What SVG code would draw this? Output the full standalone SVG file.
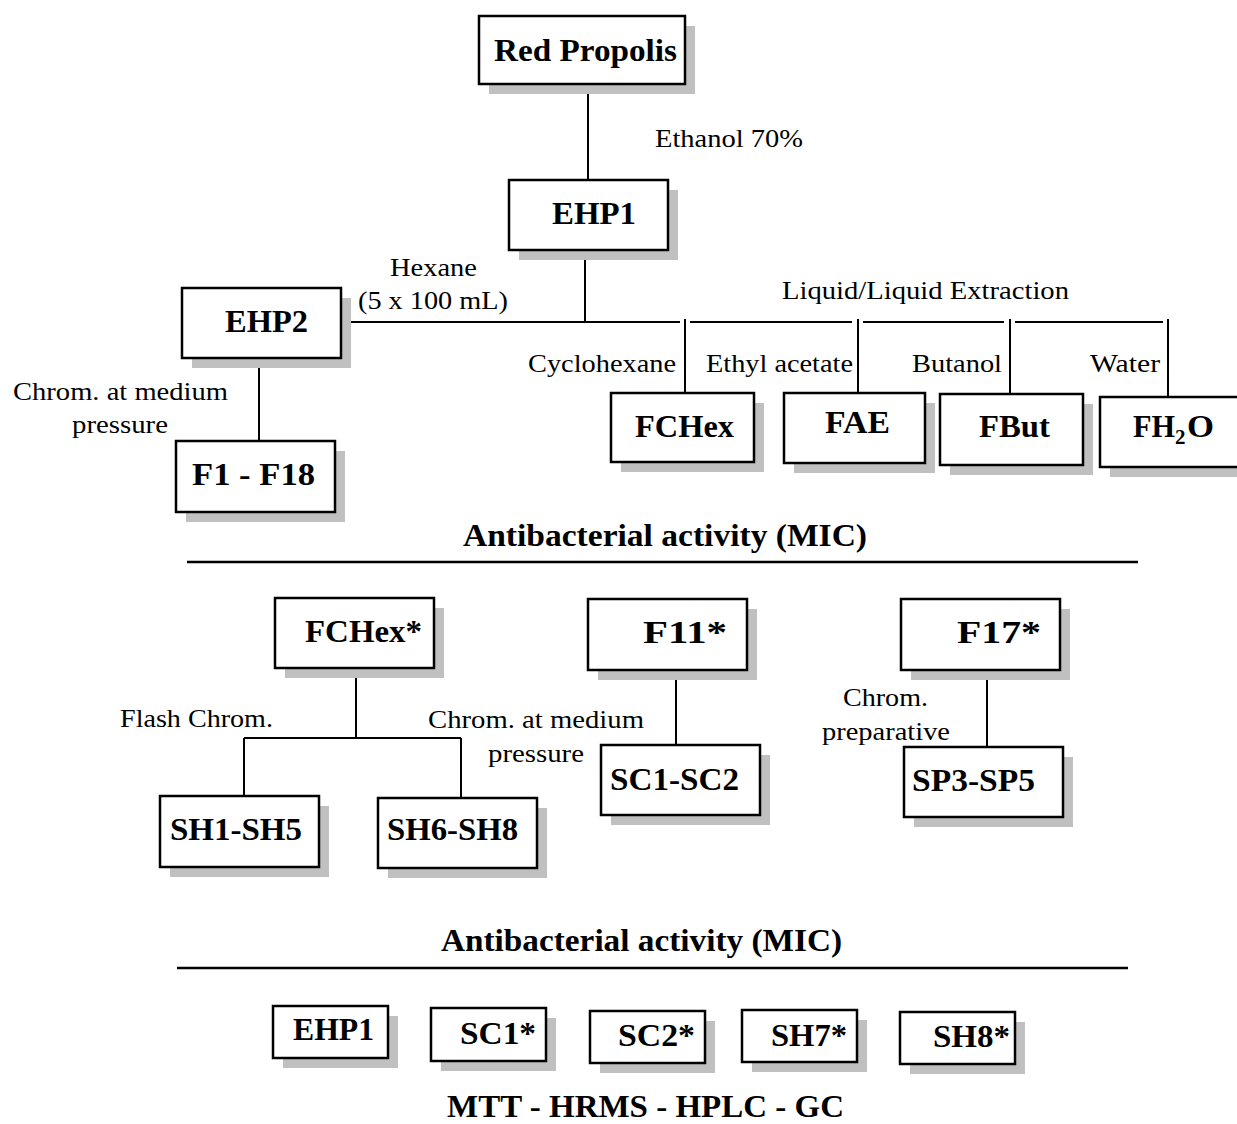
<svg xmlns="http://www.w3.org/2000/svg" width="1237" height="1124" viewBox="0 0 1237 1124">
<style>
.sh{fill:#c0c0c0;stroke:none}
.bx{fill:#fff;stroke:#000;stroke-width:2.5}
.b{font-family:"Liberation Serif","Times New Roman",serif;font-weight:bold;font-size:32px;fill:#000}
.n{font-family:"Liberation Serif","Times New Roman",serif;font-size:25px;fill:#000}
.ln{stroke:#000;stroke-width:2;fill:none}
.rule{stroke:#000;stroke-width:2.5;fill:none}
</style>
<rect width="1237" height="1124" fill="#fff"/>

<g id="connectors">
<line class="ln" x1="588" y1="84" x2="588" y2="180"/>
<line class="ln" x1="585" y1="250" x2="585" y2="322"/>
<line class="ln" x1="341" y1="322" x2="680" y2="322"/>
<line class="ln" x1="690" y1="322" x2="852" y2="322"/>
<line class="ln" x1="863" y1="322" x2="1004" y2="322"/>
<line class="ln" x1="1015" y1="322" x2="1163" y2="322"/>
<line class="ln" x1="685" y1="319" x2="685" y2="393"/>
<line class="ln" x1="858" y1="319" x2="858" y2="393"/>
<line class="ln" x1="1010" y1="319" x2="1010" y2="394"/>
<line class="ln" x1="1168" y1="319" x2="1168" y2="397"/>
<line class="ln" x1="259" y1="358" x2="259" y2="441"/>
<line class="ln" x1="356" y1="668" x2="356" y2="738"/>
<line class="ln" x1="244" y1="738" x2="461" y2="738"/>
<line class="ln" x1="244" y1="738" x2="244" y2="796"/>
<line class="ln" x1="461" y1="738" x2="461" y2="798"/>
<line class="ln" x1="676" y1="670" x2="676" y2="745"/>
<line class="ln" x1="987" y1="670" x2="987" y2="747"/>
</g>

<g id="labels">
<text class="n" x="655" y="147" textLength="148" lengthAdjust="spacingAndGlyphs">Ethanol 70%</text>
<text class="n" x="390" y="276" textLength="87" lengthAdjust="spacingAndGlyphs">Hexane</text>
<text class="n" x="358" y="309" textLength="150" lengthAdjust="spacingAndGlyphs">(5 x 100 mL)</text>
<text class="n" x="782" y="299" textLength="287" lengthAdjust="spacingAndGlyphs">Liquid/Liquid Extraction</text>
<text class="n" x="528" y="372" textLength="148" lengthAdjust="spacingAndGlyphs">Cyclohexane</text>
<text class="n" x="706" y="372" textLength="147" lengthAdjust="spacingAndGlyphs">Ethyl acetate</text>
<text class="n" x="912" y="372" textLength="90" lengthAdjust="spacingAndGlyphs">Butanol</text>
<text class="n" x="1090" y="372" textLength="70" lengthAdjust="spacingAndGlyphs">Water</text>
<text class="n" x="13" y="400" textLength="215" lengthAdjust="spacingAndGlyphs">Chrom. at medium</text>
<text class="n" x="72" y="433" textLength="96" lengthAdjust="spacingAndGlyphs">pressure</text>
<text class="b" x="463" y="546" font-size="33" textLength="404" lengthAdjust="spacingAndGlyphs">Antibacterial activity (MIC)</text>
<line class="rule" x1="187" y1="562" x2="1138" y2="562"/>
<text class="n" x="120" y="727" textLength="153" lengthAdjust="spacingAndGlyphs">Flash Chrom.</text>
<text class="n" x="428" y="728" textLength="216" lengthAdjust="spacingAndGlyphs">Chrom. at medium</text>
<text class="n" x="488" y="762" textLength="96" lengthAdjust="spacingAndGlyphs">pressure</text>
<text class="n" x="843" y="706" textLength="85" lengthAdjust="spacingAndGlyphs">Chrom.</text>
<text class="n" x="822" y="740" textLength="128" lengthAdjust="spacingAndGlyphs">preparative</text>
<text class="b" x="441" y="951" font-size="33" textLength="401" lengthAdjust="spacingAndGlyphs">Antibacterial activity (MIC)</text>
<line class="rule" x1="177" y1="968" x2="1128" y2="968"/>
<text class="b" x="447" y="1117" font-size="32" textLength="397" lengthAdjust="spacingAndGlyphs">MTT - HRMS - HPLC - GC</text>
</g>

<g id="n-red-propolis">
<rect class="sh" x="489" y="26" width="206" height="68"/>
<rect class="bx" x="479" y="16" width="206" height="68"/>
<text class="b" x="494" y="61" font-size="33" textLength="183" lengthAdjust="spacingAndGlyphs">Red Propolis</text>
</g>
<g id="n-ehp1">
<rect class="sh" x="519" y="190" width="159" height="70"/>
<rect class="bx" x="509" y="180" width="159" height="70"/>
<text class="b" x="552" y="224" font-size="33" textLength="84" lengthAdjust="spacingAndGlyphs">EHP1</text>
</g>
<g id="n-ehp2">
<rect class="sh" x="192" y="298" width="159" height="70"/>
<rect class="bx" x="182" y="288" width="159" height="70"/>
<text class="b" x="225" y="332" font-size="33" textLength="83" lengthAdjust="spacingAndGlyphs">EHP2</text>
</g>
<g id="n-f1-f18">
<rect class="sh" x="186" y="451" width="159" height="71"/>
<rect class="bx" x="176" y="441" width="159" height="71"/>
<text class="b" x="192" y="485" font-size="33" textLength="123" lengthAdjust="spacingAndGlyphs">F1 - F18</text>
</g>
<g id="n-fchex">
<rect class="sh" x="621" y="403" width="143" height="69"/>
<rect class="bx" x="611" y="393" width="143" height="69"/>
<text class="b" x="635" y="437" font-size="33" textLength="99" lengthAdjust="spacingAndGlyphs">FCHex</text>
</g>
<g id="n-fae">
<rect class="sh" x="794" y="403" width="141" height="70"/>
<rect class="bx" x="784" y="393" width="141" height="70"/>
<text class="b" x="825" y="433" font-size="33" textLength="65" lengthAdjust="spacingAndGlyphs">FAE</text>
</g>
<g id="n-fbut">
<rect class="sh" x="950" y="404" width="143" height="71"/>
<rect class="bx" x="940" y="394" width="143" height="71"/>
<text class="b" x="979" y="437" font-size="33" textLength="71" lengthAdjust="spacingAndGlyphs">FBut</text>
</g>
<g id="n-fh2o">
<rect class="sh" x="1110" y="407" width="140" height="70"/>
<rect class="bx" x="1100" y="397" width="140" height="70"/>
<text class="b" font-size="33"><tspan x="1133" y="437" textLength="42" lengthAdjust="spacingAndGlyphs">FH</tspan><tspan x="1175" y="444" font-size="21">2</tspan><tspan x="1187" y="437" textLength="27" lengthAdjust="spacingAndGlyphs">O</tspan></text>
</g>

<g id="n-fchex-star">
<rect class="sh" x="285" y="608" width="159" height="70"/>
<rect class="bx" x="275" y="598" width="159" height="70"/>
<text class="b" x="305" y="642" font-size="33" textLength="117" lengthAdjust="spacingAndGlyphs">FCHex*</text>
</g>
<g id="n-sh1-sh5">
<rect class="sh" x="170" y="806" width="159" height="71"/>
<rect class="bx" x="160" y="796" width="159" height="71"/>
<text class="b" x="170" y="840" font-size="33" textLength="132" lengthAdjust="spacingAndGlyphs">SH1-SH5</text>
</g>
<g id="n-sh6-sh8">
<rect class="sh" x="388" y="808" width="159" height="70"/>
<rect class="bx" x="378" y="798" width="159" height="70"/>
<text class="b" x="387" y="840" font-size="33" textLength="131" lengthAdjust="spacingAndGlyphs">SH6-SH8</text>
</g>
<g id="n-f11">
<rect class="sh" x="598" y="609" width="159" height="71"/>
<rect class="bx" x="588" y="599" width="159" height="71"/>
<text class="b" x="643" y="643" font-size="33" textLength="84" lengthAdjust="spacingAndGlyphs">F11*</text>
</g>
<g id="n-sc1-sc2">
<rect class="sh" x="611" y="755" width="159" height="70"/>
<rect class="bx" x="601" y="745" width="159" height="70"/>
<text class="b" x="610" y="790" font-size="33" textLength="129" lengthAdjust="spacingAndGlyphs">SC1-SC2</text>
</g>
<g id="n-f17">
<rect class="sh" x="911" y="609" width="159" height="71"/>
<rect class="bx" x="901" y="599" width="159" height="71"/>
<text class="b" x="957" y="643" font-size="33" textLength="84" lengthAdjust="spacingAndGlyphs">F17*</text>
</g>
<g id="n-sp3-sp5">
<rect class="sh" x="914" y="757" width="159" height="70"/>
<rect class="bx" x="904" y="747" width="159" height="70"/>
<text class="b" x="912" y="791" font-size="33" textLength="123" lengthAdjust="spacingAndGlyphs">SP3-SP5</text>
</g>

<g id="n-ehp1-b">
<rect class="sh" x="283" y="1016" width="115" height="52"/>
<rect class="bx" x="273" y="1006" width="115" height="52"/>
<text class="b" x="293" y="1040" textLength="81" lengthAdjust="spacingAndGlyphs">EHP1</text>
</g>
<g id="n-sc1">
<rect class="sh" x="441" y="1018" width="115" height="53"/>
<rect class="bx" x="431" y="1008" width="115" height="53"/>
<text class="b" x="460" y="1044" textLength="76" lengthAdjust="spacingAndGlyphs">SC1*</text>
</g>
<g id="n-sc2">
<rect class="sh" x="600" y="1021" width="115" height="52"/>
<rect class="bx" x="590" y="1011" width="115" height="52"/>
<text class="b" x="618" y="1046" textLength="77" lengthAdjust="spacingAndGlyphs">SC2*</text>
</g>
<g id="n-sh7">
<rect class="sh" x="752" y="1020" width="115" height="52"/>
<rect class="bx" x="742" y="1010" width="115" height="52"/>
<text class="b" x="771" y="1046" textLength="76" lengthAdjust="spacingAndGlyphs">SH7*</text>
</g>
<g id="n-sh8">
<rect class="sh" x="910" y="1022" width="115" height="52"/>
<rect class="bx" x="900" y="1012" width="115" height="52"/>
<text class="b" x="933" y="1047" textLength="77" lengthAdjust="spacingAndGlyphs">SH8*</text>
</g>
</svg>
